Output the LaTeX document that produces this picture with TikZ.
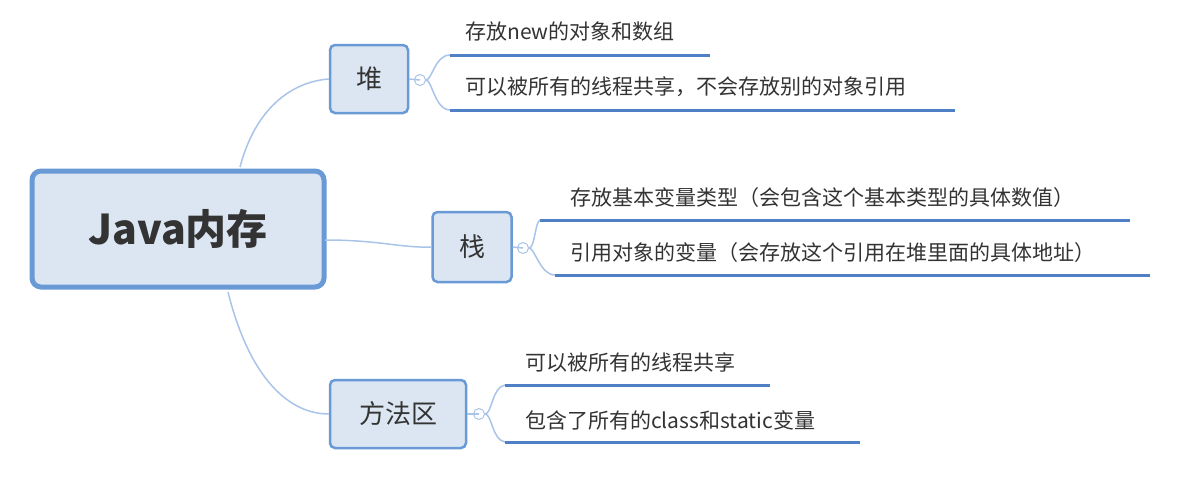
\documentclass[tikz,border=0pt]{standalone}
\usepackage{fontspec}
\setmainfont{Noto Sans CJK SC}
\definecolor{bfill}{HTML}{DCE6F2}
\definecolor{bdraw}{HTML}{6A9AD6}
\definecolor{conn}{HTML}{A9C4E8}
\definecolor{uline}{HTML}{4F7FC4}
\definecolor{txt}{HTML}{333333}
\begin{document}
\begin{tikzpicture}[x=1pt,y=-1pt,
  topic/.style={draw=bdraw,fill=bfill,rounded corners=5pt,line width=2.5pt,inner sep=0pt,text=txt,font=\fontsize{26}{30}\selectfont},
  leaf/.style={anchor=west,inner sep=0pt,text=txt,font=\fontsize{21}{24}\selectfont},
  conn/.style={draw=conn,line width=1.5pt},
  ul/.style={draw=uline,line width=3pt},
  coll/.style={circle,draw=conn,fill=white,line width=1pt,minimum size=11pt,inner sep=0pt}]
\useasboundingbox (0,0) rectangle (1195,480);
\node[topic,line width=5pt,rounded corners=9pt,minimum width=292pt,minimum height=116pt,font=\bfseries\fontsize{41}{45}\selectfont] (m) at (178,229) {Java内存};
\node[topic,minimum width=78pt,minimum height=68pt] (h) at (369,79) {堆};
\node[topic,minimum width=79pt,minimum height=70pt] (s) at (472,247) {栈};
\node[topic,minimum width=136pt,minimum height=68pt] (f) at (398,414) {方法区};
\node[coll] (ch) at (420,80) {};
\node[coll] (cs) at (523,248) {};
\node[coll] (cf) at (479,414) {};
\draw[conn] (ch.center) -- (h.east);
\draw[conn] (cs.center) -- (s.east);
\draw[conn] (cf.center) -- (f.east);
\coordinate (m1) at (240,167);
\coordinate (m2) at (325,240);
\coordinate (m3) at (228,292);
\draw[conn] (m1) .. controls (255,110) and (290,82) .. (h.west);
\draw[conn] (m2) .. controls (380,240) and (400,248) .. (s.west);
\draw[conn] (m3) .. controls (250,380) and (290,414) .. (f.west);
\coordinate (h1a) at (450,55); \coordinate (h1b) at (710,55);
\coordinate (h2a) at (450,110); \coordinate (h2b) at (955,110);
\draw[conn] (ch.east) .. controls (432,80) and (435,55) .. (h1a);
\draw[conn] (ch.east) .. controls (432,80) and (435,110) .. (h2a);
\draw[ul] (h1a) -- (h1b); \draw[ul] (h2a) -- (h2b);
\node[leaf] (t1) at (465,32) {存放new的对象和数组};
\node[leaf] (t2) at (465,87) {可以被所有的线程共享，不会存放别的对象引用};
\coordinate (s1a) at (540,220); \coordinate (s1b) at (1130,220);
\coordinate (s2a) at (555,275); \coordinate (s2b) at (1150,275);
\draw[conn] (cs.east) .. controls (535,248) and (535,222) .. (s1a);
\draw[conn] (cs.east) .. controls (535,248) and (540,275) .. (s2a);
\draw[ul] (s1a) -- (s1b); \draw[ul] (s2a) -- (s2b);
\node[leaf] (t3) at (570,198) {存放基本变量类型（会包含这个基本类型的具体数值）};
\node[leaf] (t4) at (570,253) {引用对象的变量（会存放这个引用在堆里面的具体地址）};
\coordinate (f1a) at (505,385); \coordinate (f1b) at (770,385);
\coordinate (f2a) at (505,442); \coordinate (f2b) at (860,442);
\draw[conn] (cf.east) .. controls (492,414) and (492,387) .. (f1a);
\draw[conn] (cf.east) .. controls (492,414) and (492,440) .. (f2a);
\draw[ul] (f1a) -- (f1b); \draw[ul] (f2a) -- (f2b);
\node[leaf] (t5) at (525,363) {可以被所有的线程共享};
\node[leaf] (t6) at (525,420) {包含了所有的class和static变量};
\end{tikzpicture}
\end{document}
